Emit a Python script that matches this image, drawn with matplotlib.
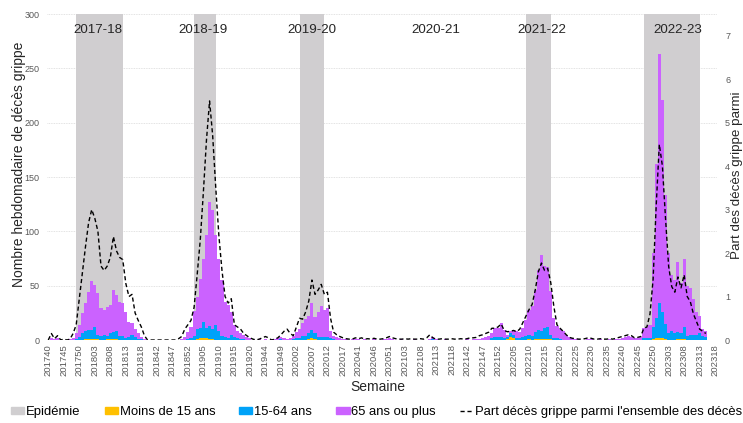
import numpy as np
import matplotlib
matplotlib.use("Agg")
import matplotlib.pyplot as plt
from matplotlib.patches import Patch
from matplotlib.lines import Line2D

plt.rcParams['font.family'] = ['Liberation Sans', 'DejaVu Sans']

# surveillance weeks: october to may until 2021, then continuous
week_segments = [
    (201740, 201752), (201801, 201820),
    (201840, 201852), (201901, 201920),
    (201940, 201952), (202001, 202020),
    (202040, 202053), (202101, 202120),
    (202140, 202152), (202201, 202252), (202301, 202318),
]
weeks = [str(w) for start, end in week_segments for w in range(start, end + 1)]

nan = np.nan

# weekly flu deaths by age group, one list per season
moins15 = (
    [0, 0, 0, 0, 0, 0, 0, 0, 0, 0, 0, 0, 1, 1, 1, 1, 1, 0, 0, 1, 1, 1, 1, 0, 0, 0, 0, 0, 0, 0, 0, 0, 0]
    + [0, 0, 0, 0, 0, 0, 0, 0, 0, 0, 0, 0, 0, 0, 0, 1, 2, 2, 2, 1, 1, 0, 0, 0, 0, 0, 0, 0, 0, 0, 0, 0, 0]
    + [0, 0, 0, 0, 0, 0, 0, 0, 0, 0, 0, 0, 0, 0, 0, 0, 0, 0, 1, 2, 1, 0, 0, 0, 0, 0, 0, 0, 0, 0, 0, 0, 0]
    + [0, 0, 0, 0, 0, 0, 0, 0, 0, 0, 0, 0, 0, 0, 0, 0, 0, 0, 0, 0, 0, 0, 0, 0, 0, 0, 0, 0, 0, 0, 0, 0, 0, 0]
    + [0, 0, 0, 0, 0, 0, 0, 0, 0, 0, 0, 0, 0, 0, 0, 1, 3, 2, 0, 0, 0, 0, 1, 0, 1, 1, 1, 1, 1, 1,
       0, 0, 0, 0, 0, 0, 0, 0, 0, 0, 0, 0, 0, 0, 0, 0, 0, 0, 0, 0, 0, 0, 0, 0, 0, 0, 0, 0, 0, 0,
       0, 0, 1, 2, 2, 2, 1, 0, 0, 0, 1, 1, 1, 0, 0, 0, 0, 0, 0, 0, nan, nan, nan]
)
de15a64 = (
    [0, 0, 0, 0, 0, 0, 0, 0, 0, 1, 3, 6, 7, 8, 8, 11, 4, 4, 5, 3, 5, 6, 7, 4, 4, 2, 3, 5, 3, 1, 1, 0, 0]
    + [0, 0, 0, 0, 0, 0, 0, 0, 0, 0, 0, 0, 1, 2, 4, 9, 9, 15, 9, 12, 9, 14, 8, 4, 3, 2, 5, 3, 2, 1, 1, 0, 0]
    + [0, 0, 0, 0, 0, 0, 0, 0, 0, 1, 0, 0, 0, 1, 2, 2, 4, 4, 5, 7, 5, 3, 3, 3, 3, 2, 1, 0, 0, 0, 0, 0, 0]
    + [0, 0, 0, 0, 0, 0, 0, 0, 0, 0, 0, 0, 0, 0, 0, 0, 0, 0, 0, 0, 0, 0, 0, 0, 0, 1, 0, 0, 0, 0, 0, 0, 0, 0]
    + [0, 0, 0, 0, 0, 0, 0, 0, 0, 0, 2, 3, 3, 3, 2, 2, 3, 3, 2, 2, 3, 4, 4, 4, 6, 8, 7, 10, 11, 4,
       2, 2, 1, 0, 0, 0, 0, 0, 0, 0, 0, 0, 0, 0, 0, 0, 0, 0, 0, 0, 0, 0, 0, 0, 0, 0, 0, 0, 0, 2,
       2, 2, 11, 18, 32, 24, 14, 6, 8, 6, 6, 5, 11, 4, 5, 5, 5, 6, 4, 3, nan, nan, nan]
)
plus65 = (
    [0, 2, 1, 2, 0, 0, 0, 1, 2, 5, 11, 19, 26, 35, 45, 39, 38, 25, 23, 26, 26, 39, 33, 31, 30, 24, 14, 11, 7, 5, 2, 1, 0]
    + [0, 0, 0, 0, 0, 0, 0, 0, 0, 0, 1, 3, 6, 10, 23, 30, 45, 58, 86, 114, 110, 83, 67, 51, 32, 30, 21, 11, 6, 5, 4, 3, 2]
    + [0, 0, 1, 0, 1, 0, 0, 1, 2, 2, 2, 1, 2, 3, 5, 8, 12, 15, 16, 25, 15, 23, 28, 25, 26, 6, 3, 3, 2, 1, 1, 0, 1]
    + [1, 1, 0, 1, 0, 0, 1, 0, 0, 1, 1, 2, 1, 0, 0, 1, 0, 0, 0, 1, 0, 0, 0, 0, 1, 2, 1, 0, 0, 1, 0, 0, 0, 0]
    + [0, 0, 1, 0, 1, 1, 1, 2, 3, 4, 4, 8, 8, 13, 7, 2, 2, 4, 6, 5, 8, 14, 23, 27, 39, 55, 70, 57, 55, 40,
       18, 11, 9, 8, 5, 3, 2, 1, 1, 0, 0, 1, 1, 0, 0, 1, 0, 0, 1, 0, 1, 1, 2, 3, 4, 3, 2, 2, 3, 9,
       10, 12, 68, 142, 229, 195, 118, 74, 52, 49, 65, 46, 63, 46, 43, 33, 21, 16, 6, 5, nan, nan, nan]
)

# share of flu deaths among all deaths (%)
part_deces = (
    [0.0, 0.15, 0.03, 0.1, 0.0, 0.02, 0.0, 0.02, 0.15, 0.35, 0.95, 1.55, 2.15, 2.7, 3.0, 2.8, 2.5,
     1.7, 1.6, 1.7, 1.9, 2.38, 2.05, 1.9, 1.85, 1.3, 1.0, 1.05, 0.62, 0.45, 0.3, 0.1, 0.0]
    + [0, 0, 0, 0, 0, 0, 0, 0, 0, 0.03, 0.08, 0.25, 0.35, 0.45, 0.75, 1.5, 2.3, 3.4, 4.6, 5.5, 4.7,
       3.5, 2.4, 1.6, 1.0, 0.85, 0.95, 0.35, 0.3, 0.25, 0.15, 0.1, 0.05]
    + [0.02, 0.0, 0.02, 0.05, 0.08, 0.05, 0.0, 0.02, 0.05, 0.12, 0.2, 0.25, 0.15, 0.1, 0.3, 0.5, 0.48,
       0.65, 0.9, 1.38, 1.05, 1.15, 1.28, 1.05, 1.1, 0.5, 0.18, 0.12, 0.08, 0.05, 0.03, 0.02, 0.02]
    + [0.05, 0.03, 0.05, 0.02, 0.03, 0.02, 0.04, 0.02, 0.02, 0.03, 0.05, 0.08, 0.05, 0.03, 0.02, 0.02, 0.03,
       0.02, 0.03, 0.02, 0.02, 0.03, 0.02, 0.05, 0.12, 0.05, 0.02, 0.02, 0.03, 0.02, 0.02, 0.03, 0.02, 0.02]
    + [0.03, 0.02, 0.03, 0.05, 0.05, 0.06, 0.1, 0.12, 0.15, 0.18, 0.27, 0.27, 0.3, 0.37, 0.22, 0.19, 0.2,
       0.22, 0.19, 0.25, 0.4, 0.55, 0.7, 0.82, 1.15, 1.57, 1.77, 1.6, 1.65, 1.32, 0.77, 0.35, 0.27, 0.2,
       0.12, 0.06, 0.04, 0.03, 0.02, 0.02, 0.03, 0.05, 0.04, 0.02, 0.02, 0.03, 0.02, 0.02, 0.03, 0.02,
       0.04, 0.06, 0.08, 0.1, 0.12, 0.1, 0.05, 0.06, 0.08, 0.27, 0.3, 0.6, 1.4, 3.1, 4.5, 4.0, 2.8, 1.7,
       1.23, 1.1, 1.45, 1.2, 1.5, 1.0, 0.88, 0.6, 0.42, 0.25, 0.2, 0.15, nan, nan, nan]
)

# epidemic periods (first and last week)
epidemies = [("201749", "201812"), ("201902", "201909"), ("202003", "202011"),
             ("202209", "202217"), ("202247", "202313")]
saisons = ["2017-18", "2018-19", "2019-20", "2020-21", "2021-22", "2022-23"]
saison_weeks = ["201804", "201905", "202007", "202113", "202214", "202306"]

c_epi = '#D0CED0'
c_moins15 = '#FFC000'
c_15_64 = '#00A2F8'
c_65 = '#CB62FF'
c_txt = '#595959'

x = np.arange(len(weeks))
y1 = np.nan_to_num(np.array(moins15, dtype=float))
y2 = np.nan_to_num(np.array(de15a64, dtype=float))
y3 = np.nan_to_num(np.array(plus65, dtype=float))
part = np.array(part_deces, dtype=float)

fig = plt.figure(figsize=(7.43, 4.23), dpi=100)
ax = fig.add_axes([0.0629, 0.1962, 0.9017, 0.7707])

# epidemic shading behind the bars
for start, end in epidemies:
    ax.axvspan(weeks.index(start), weeks.index(end), color=c_epi, lw=0, zorder=1)

ax.bar(x, y1, width=1.0, color=c_moins15, lw=0, zorder=2)
ax.bar(x, y2, width=1.0, bottom=y1, color=c_15_64, lw=0, zorder=2)
ax.bar(x, y3, width=1.0, bottom=y1 + y2, color=c_65, lw=0, zorder=2)

for label, wk in zip(saisons, saison_weeks):
    ax.text(weeks.index(wk), 285, label, ha='center', va='center', fontsize=9.6, color='#262626', zorder=3)

ax.set_xlim(-0.5, len(weeks) - 0.5)
ax.set_ylim(0, 300)
ax.set_yticks(range(0, 301, 50))
ax.set_xticks(x[::5])
ax.set_xticklabels(weeks[::5], rotation=90, fontsize=6.8, color=c_txt)
ax.tick_params(axis='y', labelsize=6.5, labelcolor=c_txt, length=0, pad=5)
ax.tick_params(axis='x', length=0, pad=3)
ax.set_axisbelow(True)
ax.yaxis.grid(True, color='#d9d9d9', linestyle=(0, (1, 1)), lw=0.6)
for s in ax.spines.values():
    s.set_visible(False)

ax.set_ylabel('Nombre hebdomadaire de décès grippe', fontsize=10, color='#262626')
ax.yaxis.set_label_coords(-0.031, 0.54)
ax.set_xlabel('Semaine', fontsize=10, color='#262626')
ax.xaxis.set_label_coords(0.4945, -0.124)

# share of flu deaths on the secondary axis
ax2 = ax.twinx()
ax2.plot(x, part, color='black', linestyle=(0, (3, 2)), lw=1.0)
ax2.set_ylim(0, 7.5)
ax2.set_yticks(range(0, 8))
ax2.tick_params(axis='y', labelsize=6.5, labelcolor=c_txt, length=0, pad=6)
for s in ax2.spines.values():
    s.set_visible(False)
ax2.set_ylabel('Part des décès grippe parmi', fontsize=9.6, color='#262626')
ax2.yaxis.set_label_coords(1.021, 0.506)

handles = [
    Patch(color=c_epi, label='Epidémie'),
    Patch(color=c_moins15, label='Moins de 15 ans'),
    Patch(color=c_15_64, label='15-64 ans'),
    Patch(color=c_65, label='65 ans ou plus'),
    Line2D([], [], color='black', linestyle=(0, (3, 2)), lw=1.0,
           label="Part décès grippe parmi l'ensemble des décès"),
]
fig.legend(handles=handles, loc='center', bbox_to_anchor=(0.507, 0.026), ncol=5, frameon=False,
           fontsize=9.4, handlelength=1.0, handleheight=0.5, handletextpad=0.15, columnspacing=1.85,
           borderaxespad=0, borderpad=0)

fig.savefig('out.png', dpi=100)
